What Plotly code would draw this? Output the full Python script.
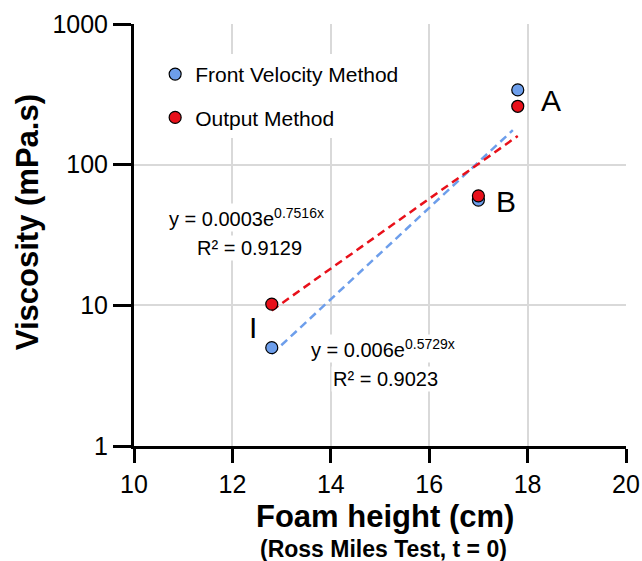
import plotly.graph_objects as go

# ---- data ----
foam_height = [12.8, 17.0, 17.8]
front_velocity = [5.0, 56.0, 340.0]
output_method = [10.2, 60.0, 260.0]

trend_fv_x = [12.8, 17.7]
trend_fv_y = [4.5, 176.0]
trend_out_x = [12.8, 17.8]
trend_out_y = [9.2, 160.0]

x_ticks = [10, 12, 14, 16, 18, 20]
y_ticks = [1, 10, 100, 1000]

BLUE = "#6d9eeb"
RED = "#e8101a"
FONT = "Liberation Sans, Arial, sans-serif"

fig = go.Figure()

fig.add_trace(go.Scatter(x=trend_fv_x, y=trend_fv_y, mode="lines",
                         line=dict(color=BLUE, width=2.5, dash="8px,5px"),
                         showlegend=False, hoverinfo="skip"))
fig.add_trace(go.Scatter(x=trend_out_x, y=trend_out_y, mode="lines",
                         line=dict(color=RED, width=2.5, dash="8px,5px"),
                         showlegend=False, hoverinfo="skip"))

fig.add_trace(go.Scatter(x=foam_height, y=front_velocity, mode="markers",
                         name="Front Velocity Method", legendgroup="fv",
                         marker=dict(color=BLUE, size=12,
                                     line=dict(color="black", width=1.2))))
fig.add_trace(go.Scatter(x=foam_height, y=output_method, mode="markers",
                         name="Output Method", legendgroup="out",
                         marker=dict(color=RED, size=12,
                                     line=dict(color="black", width=1.2))))

ann = []
def add_text(x, ylog, text, size, **kw):
    ann.append(dict(x=x, y=ylog, xref="x", yref="y", text=text, showarrow=False,
                    font=dict(family=FONT, size=size, color="black"), **kw))

add_text(12.28, 1.625, "y = 0.0003e<sup>0.7516x</sup>", 20, bgcolor="white")
add_text(12.34, 1.407, "R² = 0.9129", 20, bgcolor="white")
add_text(15.07, 0.690, "y = 0.006e<sup>0.5729x</sup>", 20, bgcolor="white")
add_text(15.12, 0.476, "R² = 0.9023", 20, bgcolor="white")
add_text(18.48, 2.459, "A", 30)
add_text(17.56, 1.741, "B", 30)
add_text(12.42, 0.846, "I", 30)

# axis titles
ann.append(dict(x=0.510, y=-0.168, xref="paper", yref="paper",
                xanchor="center", yanchor="middle",
                text="<b>Foam height (cm)</b>", showarrow=False,
                font=dict(family=FONT, size=31, color="black")))
ann.append(dict(x=0.508, y=-0.244, xref="paper", yref="paper",
                xanchor="center", yanchor="middle",
                text="<b>(Ross Miles Test, t = 0)</b>", showarrow=False,
                font=dict(family=FONT, size=23, color="black")))
ann.append(dict(x=-0.215, y=0.531, xref="paper", yref="paper",
                xanchor="center", yanchor="middle", textangle=-90,
                text="<b>Viscosity (mPa.s)</b>", showarrow=False,
                font=dict(family=FONT, size=31, color="black")))

fig.update_layout(
    width=642, height=561,
    margin=dict(l=134, r=16, t=24, b=115),
    paper_bgcolor="white", plot_bgcolor="white",
    font=dict(family=FONT, color="black"),
    annotations=ann,
    legend=dict(x=0.043, y=0.929, xanchor="left", yanchor="top",
                bgcolor="white", font=dict(size=21, family=FONT),
                traceorder="grouped", tracegroupgap=13),
    xaxis=dict(range=[10, 20], tickvals=x_ticks, showgrid=True,
               gridcolor="#d9d9d9", gridwidth=2, automargin=False,
               showline=True, linecolor="black", linewidth=3,
               ticks="outside", ticklen=14, tickwidth=3, tickcolor="black",
               tickfont=dict(size=25, family=FONT), zeroline=False),
    yaxis=dict(type="log", range=[0, 3], tickvals=y_ticks,
               ticktext=[str(v) for v in y_ticks], showgrid=True,
               gridcolor="#d9d9d9", gridwidth=2, automargin=False,
               showline=True, linecolor="black", linewidth=3,
               ticks="outside", ticklen=18, tickwidth=3, tickcolor="black",
               tickfont=dict(size=25, family=FONT), zeroline=False),
)

fig.write_html("out.html",
               config={"displayModeBar": False},
               post_script="document.body.style.margin='0';"
                           "document.body.style.overflow='hidden';")
